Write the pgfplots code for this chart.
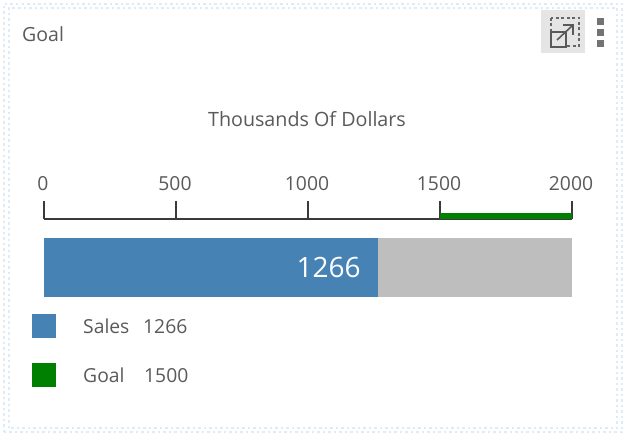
\documentclass[border=0pt]{standalone}
\usepackage{pgfplots}
\pgfplotsset{compat=1.18}
\usepackage{fontspec}
\setmainfont{Open Sans}
\definecolor{txt}{HTML}{5A5A5A}
\definecolor{axc}{HTML}{3A3A3A}
\definecolor{blu}{HTML}{4682B4}
\definecolor{grn}{HTML}{008000}
\definecolor{gry}{HTML}{BEBEBE}
\definecolor{dotc}{HTML}{DCEBF5}
\newcommand{\lab}{\fontsize{19.3}{22}\selectfont}
\begin{document}
\begin{tikzpicture}[x=1pt,y=1pt]
\path[use as bounding box,fill=white] (0,0) rectangle (632,440);
% dotted frame
\draw[dotc,line width=2.5pt,dash pattern=on 2.5pt off 3pt] (4,8) rectangle (622,436);
\draw[dotc,line width=2.5pt,dash pattern=on 2.5pt off 3pt] (9,12) -- (9,432) -- (617,432) -- (617,12) -- cycle;
\node[anchor=west,text=txt,font=\fontsize{19.5}{22}\selectfont,inner sep=0pt] at (22,405.5) {Goal};
% icon
\fill[black!10] (541,387) rectangle (585,430);
\draw[black!60,line width=2pt,dash pattern=on 3pt off 2.5pt] (551,422) rectangle (579,394);
\fill[black!10] (549,409) rectangle (567,391);
\draw[black!65,line width=2pt] (551,408) rectangle (566,393);
\draw[black!65,line width=1.6pt] (557,400) -- (573,415);
\draw[black!65,line width=1.6pt] (563,415) -- (573,415) -- (573,405);
\foreach \yy in {415,404,393}{\fill[black!55] (597,\yy) rectangle (604,\yy+7);}
\begin{axis}[
  at={(44pt,143pt)},anchor=south west,
  scale only axis,width=528pt,height=78pt,
  xmin=0,xmax=2000,ymin=143,ymax=221,
  axis x line=top,axis y line=none,
  axis line style={axc,line width=1.1pt,-},
  xtick={0,500,1000,1500,2000},
  tick style={axc,line width=1.1pt},
  major tick length=18pt,
  tick align=outside,
  xticklabel style={text=txt,font=\lab,yshift=6.5pt,xshift=-1pt},
  /pgf/number format/assume math mode=true,
  /pgf/number format/1000 sep={},
  clip=false,
]
\addplot[draw=none,fill=gry,xbar,bar width=59pt,bar shift=0pt,forget plot] coordinates {(2000,172.5)};
\addplot[draw=none,fill=blu,xbar,bar width=59pt,bar shift=0pt,forget plot] coordinates {(1266,172.5)};
\addplot[grn,line width=6pt,forget plot] coordinates {(1500,224) (2000,224)};
\node[anchor=east,text=white,font=\fontsize{28}{32}\selectfont,inner sep=0pt] at (axis cs:1200,172.5) {1266};
\end{axis}
% legend text
\fill[blu] (32,102) rectangle (56,126);
\fill[grn] (32,53) rectangle (56,77);
\node[anchor=west,text=txt,font=\lab,inner sep=0pt] at (83,113.5) {Sales};
\node[anchor=west,text=txt,font=\lab,inner sep=0pt] at (143,113.5) {1266};
\node[anchor=west,text=txt,font=\lab,inner sep=0pt] at (83,64.5) {Goal};
\node[anchor=west,text=txt,font=\lab,inner sep=0pt] at (144,64.5) {1500};
\node[text=txt,font=\fontsize{19.7}{22}\selectfont,inner sep=0pt] at (307,320.5) {Thousands Of Dollars};
\end{tikzpicture}
\end{document}
